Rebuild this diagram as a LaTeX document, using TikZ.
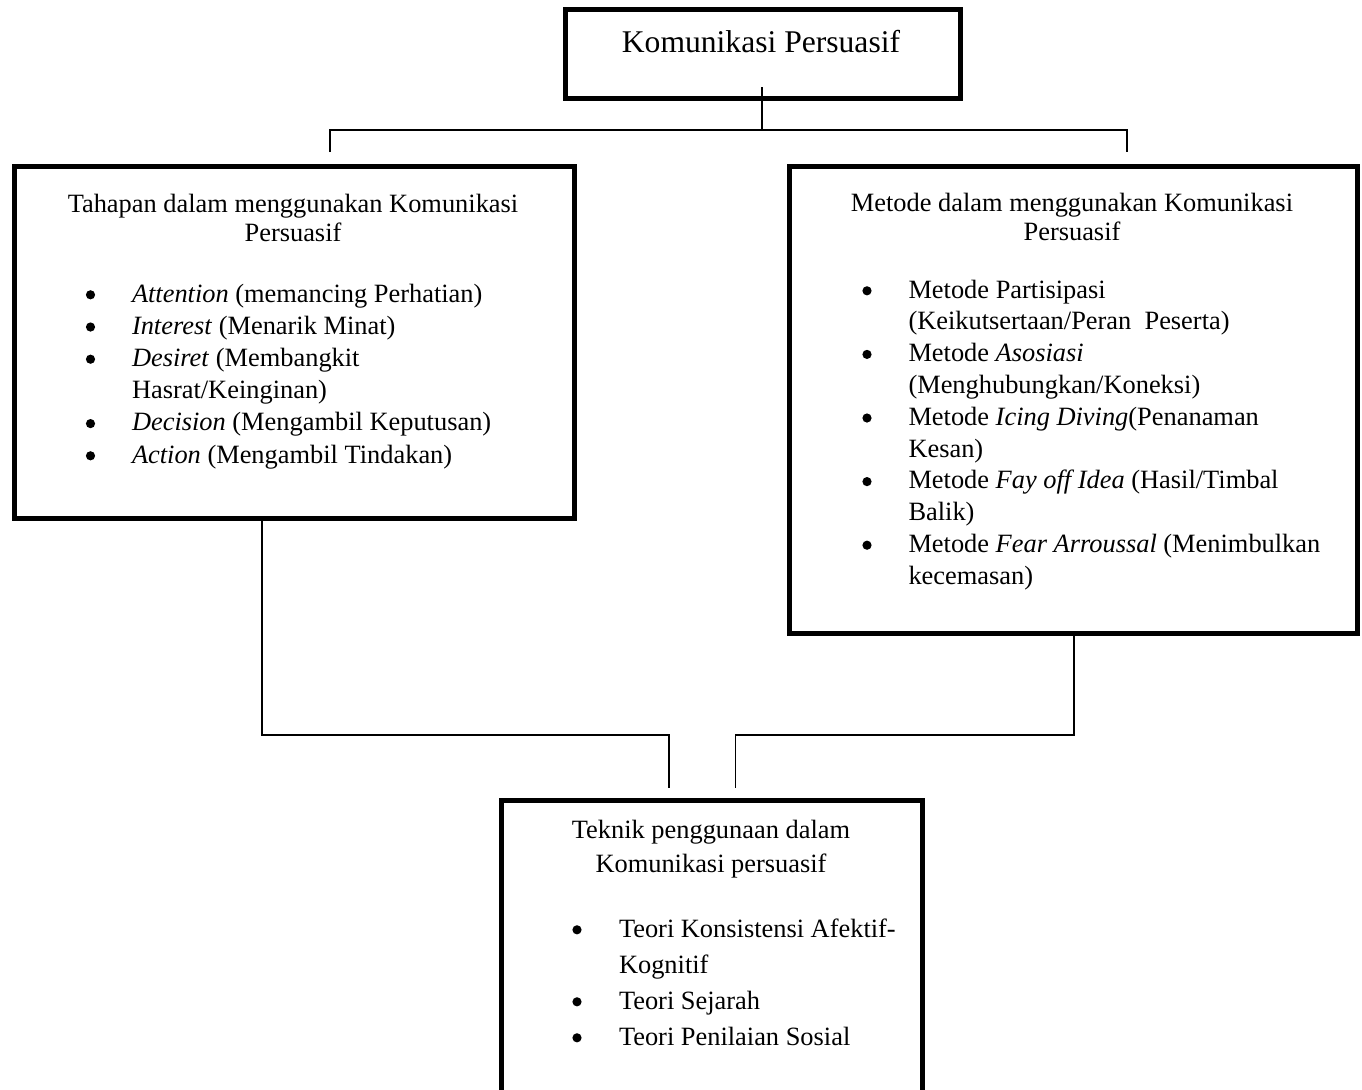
\documentclass[tikz,border=0pt]{standalone}
\usepackage{fontspec}
\setmainfont{Liberation Serif}
\begin{document}
\begin{tikzpicture}[x=0.5pt,y=-0.5pt,
  box/.style={draw,line width=2.5pt,rectangle,outer sep=0pt,inner sep=0pt},
  conn/.style={line width=0.75pt},
  body/.style={inner sep=0pt,outer sep=0pt,font=\fontsize{13.2pt}{16pt}\selectfont},
  ln/.style={body,anchor=base west},
  hd/.style={body,anchor=base},
  bul/.style={circle,fill=black,draw=none,inner sep=0pt,minimum size=4.6pt,yshift=3.6pt}]
\useasboundingbox (0,0) rectangle (1362,1089);
\clip (0,0) rectangle (1362,1089);

% boxes
\node[box,minimum width=197.5pt,minimum height=44.5pt] (top) at (763,54) {};
\node[box,minimum width=280pt,minimum height=176pt] (left) at (294.5,342.5) {};
\node[box,minimum width=284pt,minimum height=233.5pt] (right) at (1073.5,400) {};
\node[box,minimum width=210.5pt,minimum height=160pt] (bottom) at (712,960.5) {};

% top title
\node[hd,font=\fontsize{15.8pt}{19pt}\selectfont] (ttop) at (761,52) {Komunikasi Persuasif};

% left box
\node[hd] (lh1) at (293,212) {Tahapan dalam menggunakan Komunikasi};
\node[hd] (lh2) at (293,241) {Persuasif};
\node[bul] (lb1) at (90.5,302) {};
\node[ln] (l1) at (132,302) {\textit{Attention} (memancing Perhatian)};
\node[bul] (lb2) at (90.5,334.2) {};
\node[ln] (l2) at (132,334.2) {\textit{Interest} (Menarik Minat)};
\node[bul] (lb3) at (90.5,366.4) {};
\node[ln] (l3) at (132,366.4) {\textit{Desiret} (Membangkit};
\node[ln] (l3b) at (132,398.6) {Hasrat/Keinginan)};
\node[bul] (lb4) at (90.5,430.8) {};
\node[ln] (l4) at (132,430.8) {\textit{Decision} (Mengambil Keputusan)};
\node[bul] (lb5) at (90.5,463) {};
\node[ln] (l5) at (132,463) {\textit{Action} (Mengambil Tindakan)};

% right box
\node[hd] (rh1) at (1072,211) {Metode dalam menggunakan Komunikasi};
\node[hd] (rh2) at (1072,240) {Persuasif};
\node[bul] (rb1) at (867,298) {};
\node[ln] (r1) at (908.5,298) {Metode Partisipasi};
\node[ln] (r1b) at (908.5,329.8) {(Keikutsertaan/Peran\ \ Peserta)};
\node[bul] (rb2) at (867,361.6) {};
\node[ln] (r2) at (908.5,361.6) {Metode \textit{Asosiasi}};
\node[ln] (r2b) at (908.5,393.4) {(Menghubungkan/Koneksi)};
\node[bul] (rb3) at (867,425.2) {};
\node[ln] (r3) at (908.5,425.2) {Metode \textit{Icing Diving}(Penanaman};
\node[ln] (r3b) at (908.5,457) {Kesan)};
\node[bul] (rb4) at (867,488.8) {};
\node[ln] (r4) at (908.5,488.8) {Metode \textit{Fay off Idea} (Hasil/Timbal};
\node[ln] (r4b) at (908.5,520.6) {Balik)};
\node[bul] (rb5) at (867,552.4) {};
\node[ln] (r5) at (908.5,552.4) {Metode \textit{Fear Arroussal} (Menimbulkan};
\node[ln] (r5b) at (908.5,584.2) {kecemasan)};

% bottom box
\node[hd] (bh1) at (711,838) {Teknik penggunaan dalam};
\node[hd] (bh2) at (711,872) {Komunikasi persuasif};
\node[bul] (bb1) at (577,937) {};
\node[ln] (b1) at (619,937) {Teori Konsistensi Afektif-};
\node[ln] (b1b) at (619,973) {Kognitif};
\node[bul] (bb2) at (577,1009) {};
\node[ln] (b2) at (619,1009) {Teori Sejarah};
\node[bul] (bb3) at (577,1045) {};
\node[ln] (b3) at (619,1045) {Teori Penilaian Sosial};

% connectors
\coordinate (stem) at (762,87);
\coordinate (jt) at (762,130);
\coordinate (hl) at (330,130);
\coordinate (hr) at (1127,130);
\coordinate (dl) at (330,152);
\coordinate (dr) at (1127,152);
\draw[conn] (stem) -- (jt);
\draw[conn] (dl) -- (hl) -- (hr) -- (dr);

\coordinate (le) at (669,788);
\coordinate (re) at (735.5,788);
\draw[conn] (left.south -| 262,0) |- (le |- 0,735) -- (le);
\draw[conn] (right.south -| 1074,0) |- (re |- 0,735) -- (re);
\end{tikzpicture}
\end{document}
